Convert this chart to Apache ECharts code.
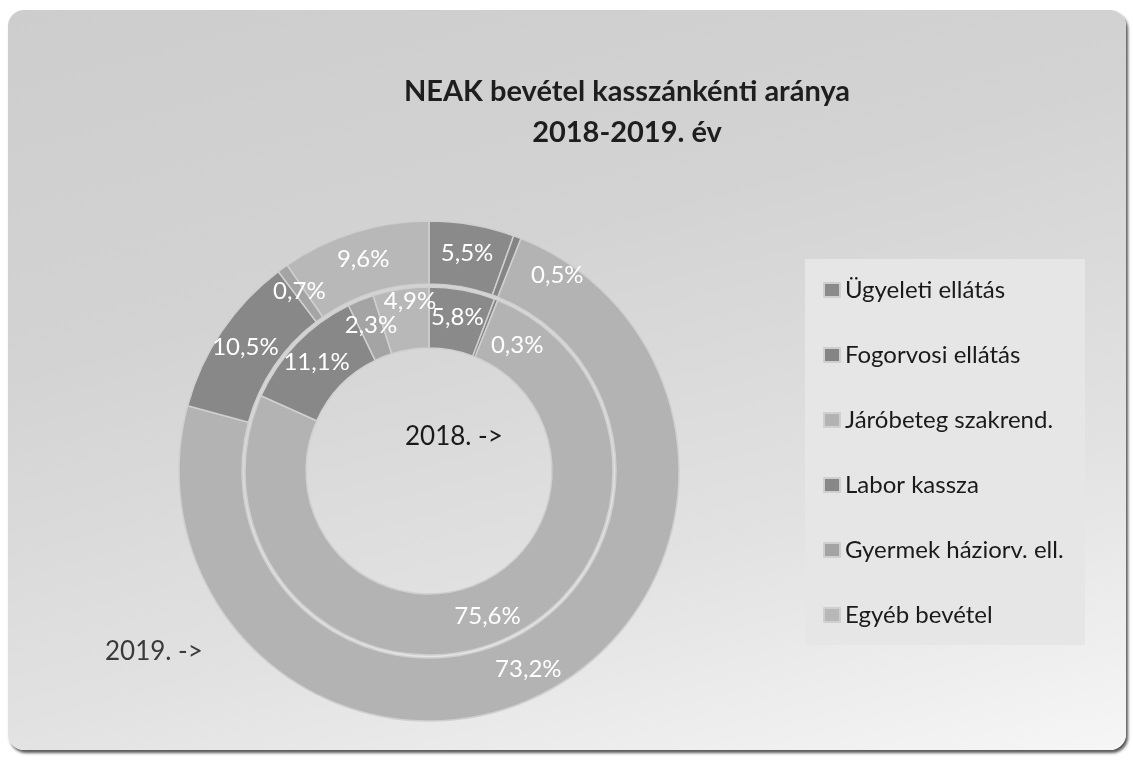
<!DOCTYPE html>
<html>
<head>
<meta charset="utf-8">
<script src="https://cdn.jsdelivr.net/npm/echarts@6/dist/echarts.min.js"></script>
<style>
  html, body { margin: 0; padding: 0; background: #ffffff; }
  #frame {
    position: absolute; left: 8px; top: 10px; width: 1118px; height: 740px;
    border-radius: 16px;
    background: linear-gradient(165deg, #cdcdcd 0%, #d3d3d3 35%, #e2e2e2 70%, #f6f6f6 100%);
    box-shadow: 2px 3px 3px rgba(0,0,0,0.65);
  }
  #chart { position: absolute; left: 0; top: 0; width: 1134px; height: 760px; }
</style>
</head>
<body>
<div id="frame"></div>
<div id="chart"></div>
<script>
var categories = ['Ügyeleti ellátás', 'Fogorvosi ellátás', 'Járóbeteg szakrend.', 'Labor kassza', 'Gyermek háziorv. ell.', 'Egyéb bevétel'];
var values2018 = [5.8, 0.3, 75.6, 11.1, 2.3, 4.9];
var values2019 = [5.5, 0.5, 73.2, 10.5, 0.7, 9.6];

var grays = ['#8a8a8a', '#858585', '#b3b3b3', '#888888', '#a4a4a4', '#b8b8b8'];
var font = 'Lato, "Open Sans", sans-serif';

// Excel moved a few crowded labels off the slice middle
var nudge2018 = { 1: [31, 20], 5: [5, -15] };
var nudge2019 = { 1: [50, 11] };

function ring(name, values, radius, nudge) {
  return {
    name: name,
    type: 'pie',
    center: [429, 471],
    radius: radius,
    startAngle: 90,
    clockwise: true,
    avoidLabelOverlap: false,
    labelLayout: { hideOverlap: false },
    itemStyle: { borderColor: '#cfcfcf', borderWidth: 1.5 },
    label: {
      show: true,
      position: 'inside',
      color: '#ffffff',
      fontFamily: font,
      fontSize: 24,
      formatter: function (p) { return p.value.toFixed(1).replace('.', ',') + '%'; }
    },
    labelLine: { show: false },
    emphasis: { disabled: true },
    data: values.map(function (v, i) {
      var d = { name: categories[i], value: v, itemStyle: { color: grays[i] } };
      if (nudge[i]) d.label = { offset: nudge[i] };
      return d;
    })
  };
}

var chart = echarts.init(document.getElementById('chart'));
chart.setOption({
  animation: false,
  color: grays,
  title: {
    text: 'NEAK bevétel kasszánkénti aránya\n2018-2019. év',
    left: 622,
    top: 66,
    textAlign: 'center',
    textStyle: { fontFamily: font, fontWeight: 'bold', fontSize: 29, lineHeight: 41, color: '#1e1e1e' }
  },
  legend: {
    orient: 'vertical',
    left: 818,
    top: 272,
    itemWidth: 16,
    itemHeight: 14,
    itemGap: 39,
    icon: 'rect',
    data: categories,
    textStyle: { fontFamily: font, fontSize: 24, color: '#1a1a1a', lineHeight: 26 }
  },
  graphic: [
    { type: 'rect', z: -1, shape: { x: 805, y: 259, width: 280, height: 386 }, style: { fill: '#e6e6e6' } },
    { type: 'text', left: 405, top: 424, style: { text: '2018. ->', fontFamily: font, fontSize: 26, fill: '#1a1a1a' } },
    { type: 'text', left: 105, top: 639, style: { text: '2019. ->', fontFamily: font, fontSize: 26, fill: '#3a3a3a' } }
  ],
  series: [
    ring('2018', values2018, [123, 184], nudge2018),
    ring('2019', values2019, [187, 250], nudge2019)
  ]
});
</script>
</body>
</html>
